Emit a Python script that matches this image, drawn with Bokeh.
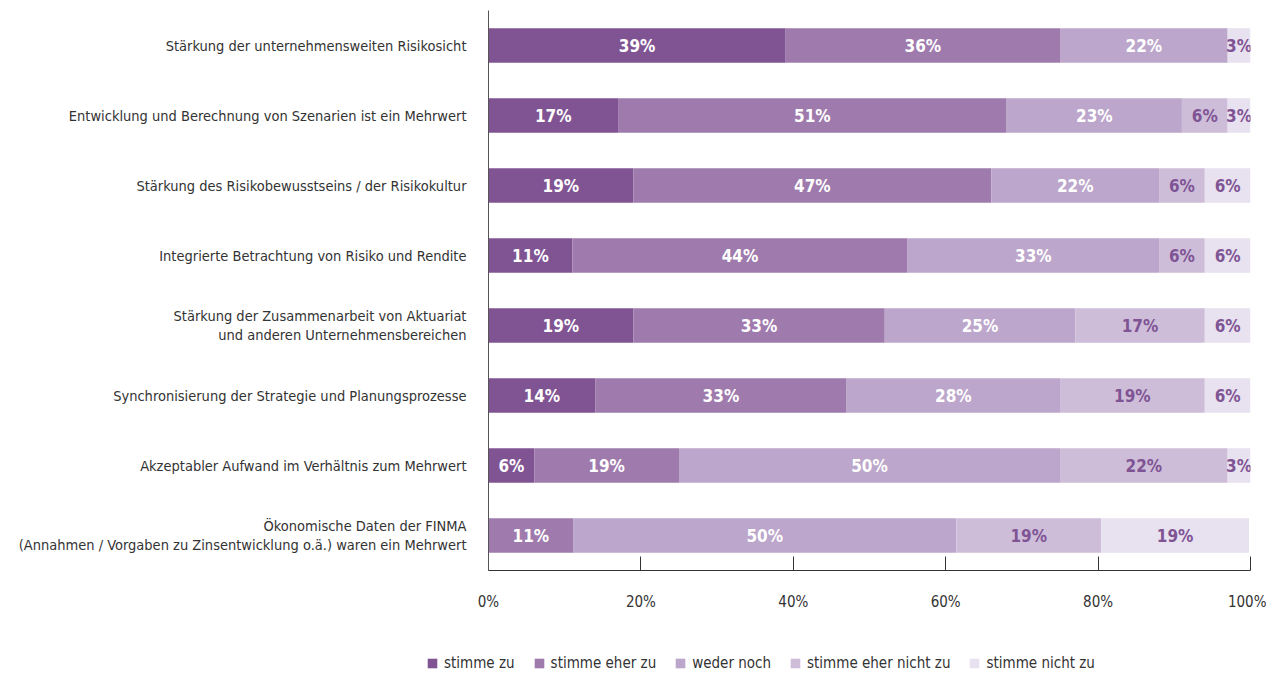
from bokeh.plotting import figure
from bokeh.layouts import column, row
from bokeh.models import ColumnDataSource, FactorRange, Legend, LegendItem, FixedTicker
from bokeh.core.properties import value
from bokeh.embed import file_html
from bokeh.resources import INLINE

categories = [
    "Stärkung der unternehmensweiten Risikosicht",
    "Entwicklung und Berechnung von Szenarien ist ein Mehrwert",
    "Stärkung des Risikobewusstseins / der Risikokultur",
    "Integrierte Betrachtung von Risiko und Rendite",
    "Stärkung der Zusammenarbeit von Aktuariat\nund anderen Unternehmensbereichen",
    "Synchronisierung der Strategie und Planungsprozesse",
    "Akzeptabler Aufwand im Verhältnis zum Mehrwert",
    "Ökonomische Daten der FINMA\n(Annahmen / Vorgaben zu Zinsentwicklung o.ä.) waren ein Mehrwert",
]
series = ["stimme zu", "stimme eher zu", "weder noch", "stimme eher nicht zu", "stimme nicht zu"]
stimme_zu = [39, 17, 19, 11, 19, 14, 6, 0]
stimme_eher_zu = [36, 51, 47, 44, 33, 33, 19, 11.1]
weder_noch = [22, 23, 22, 33, 25, 28, 50, 50.3]
stimme_eher_nicht_zu = [0, 6, 6, 6, 17, 19, 22, 19.0]
stimme_nicht_zu = [3, 3, 6, 6, 6, 6, 3, 19.4]
x_ticks = [0, 20, 40, 60, 80, 100]

colors = ["#805493", "#9f7bad", "#bca6cb", "#cebdd9", "#e8e1ef"]
label_colors = ["#ffffff", "#ffffff", "#ffffff", "#7f5494", "#7f5494"]
FONT = "DejaVu Sans Condensed"

keys = ["s0", "s1", "s2", "s3", "s4"]
all_vals = [stimme_zu, stimme_eher_zu, weder_noch, stimme_eher_nicht_zu, stimme_nicht_zu]
data = dict(y=categories)
for k, v in zip(keys, all_vals):
    data[k] = v
source = ColumnDataSource(data)

p = figure(frame_width=762, frame_height=560, y_range=FactorRange(factors=categories[::-1]),
           x_range=(0, 100), output_backend="svg", toolbar_location=None,
           min_border_left=488, min_border_right=16, min_border_top=10, min_border_bottom=75)

renderers = p.hbar_stack(keys, y="y", height=0.49, color=colors, line_color=None, source=source)

for i, k in enumerate(keys):
    xs, ys, ts = [], [], []
    for r in range(len(categories)):
        left = sum(all_vals[j][r] for j in range(i))
        w = all_vals[i][r]
        if w <= 0:
            continue
        xs.append(left + w / 2)
        ys.append(categories[r])
        ts.append(f"{w:.0f}%")
    p.text(x=xs, y=ys, text=ts, text_align="center", text_baseline="middle",
           text_color=label_colors[i], text_font=value(FONT), text_font_style="bold",
           text_font_size="17px")

p.xgrid.visible = False
p.ygrid.visible = False
p.outline_line_color = None

p.xaxis.ticker = FixedTicker(ticks=x_ticks)
p.xaxis.major_label_overrides = {t: f"{t}%" for t in x_ticks}
p.xaxis.major_tick_in = 14
p.xaxis.major_tick_out = 0
p.xaxis.minor_tick_line_color = None
p.xaxis.axis_line_color = "#333333"
p.xaxis.major_tick_line_color = "#333333"
p.xaxis.major_label_text_font = FONT
p.xaxis.major_label_text_font_size = "15px"
p.xaxis.major_label_text_color = "#333333"
p.xaxis.major_label_standoff = 22

p.yaxis.major_tick_line_color = None
p.yaxis.minor_tick_line_color = None
p.yaxis.axis_line_color = "#555555"
p.yaxis.major_label_text_font = FONT
p.yaxis.major_label_text_font_size = "14.5px"
p.yaxis.major_label_text_color = "#333333"
p.yaxis.major_label_standoff = 16

# legend panel as a second, axis-less figure
total_w = 488 + 762 + 16
lg = figure(width=total_w, height=33, x_range=(0, 1), y_range=(0, 1), output_backend="svg",
            toolbar_location=None, x_axis_location=None, y_axis_location=None,
            min_border_left=0, min_border_right=0, min_border_top=0, min_border_bottom=0)
lg.xgrid.visible = False
lg.ygrid.visible = False
lg.outline_line_color = None
# legend-only renderers: their single bar lies outside the visible range
dummies = [lg.hbar(y=[-5], left=[-5], right=[-4], height=1, color=c, line_color=None) for c in colors]
items = [LegendItem(label=s, renderers=[r]) for s, r in zip(series, dummies)]
legend = Legend(items=items, orientation="horizontal", location=(426, 6),
                label_text_font=FONT, label_text_font_size="15px", label_text_color="#333333",
                glyph_width=12, glyph_height=12, spacing=18, label_standoff=6,
                border_line_color=None, background_fill_alpha=0, margin=0, padding=2)
lg.add_layout(legend)

layout = column(p, row(lg, spacing=0), spacing=0)
open("out.html", "w").write(file_html(layout, INLINE))
